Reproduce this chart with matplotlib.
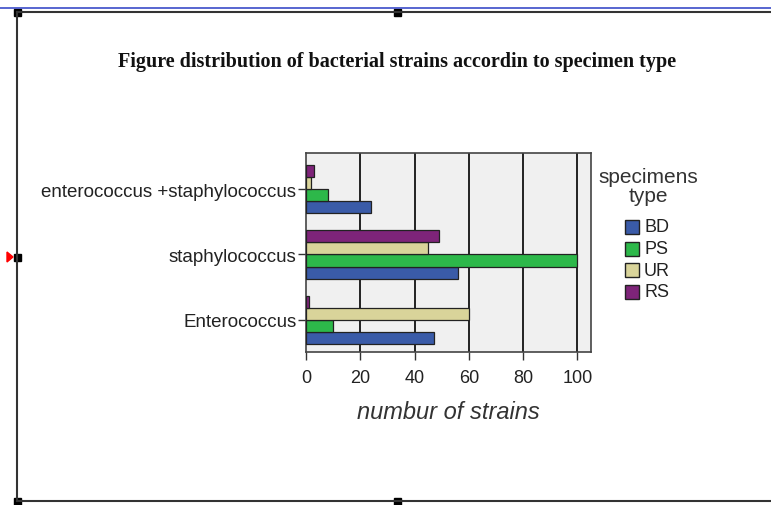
import numpy as np
import matplotlib.pyplot as plt
from matplotlib.patches import Rectangle, Polygon
from matplotlib.lines import Line2D

# --- data ---
categories = ["Enterococcus", "staphylococcus", "enterococcus +staphylococcus"]
series = ["BD", "PS", "UR", "RS"]
bd = [47, 56, 24]
ps = [10, 100, 8]
ur = [60, 45, 2]
rs = [1, 49, 3]
colors = ["#3a5ba8", "#2db84a", "#d9d49a", "#7e2479"]
x_ticks = [0, 20, 40, 60, 80, 100]

values = [bd, ps, ur, rs]

fig = plt.figure(figsize=(7.71, 5.06), dpi=100)
W, H = 771, 506

# axes box in pixel coords: left 306, right 591, top 154, bottom 353
ax = fig.add_axes([306 / W, 1 - 353 / H, (591 - 306) / W, (353 - 154) / H])
ax.set_facecolor("#f0f0f0")

y = np.arange(len(categories))
bh = 0.185
for i, (vals, c) in enumerate(zip(values, colors)):
    off = (i - 1.5) * bh
    ax.barh(y + off, vals, height=bh, color=c, edgecolor="#222222",
            linewidth=0.9, label=series[i], zorder=3)

ax.set_xlim(0, 105)
ax.set_ylim(-0.49, 2.55)
ax.set_xticks(x_ticks)
ax.set_xticklabels([str(t) for t in x_ticks], fontsize=13, family="Liberation Sans")
ax.set_yticks(y)
ax.set_yticklabels(categories, fontsize=13.5, family="Liberation Sans")
ax.tick_params(axis="both", direction="out", length=6, width=1, colors="#333333",
               labelcolor="#222222")
ax.tick_params(axis="x", pad=6)
ax.tick_params(axis="y", pad=1)
for x in x_ticks[1:]:
    ax.axvline(x, color="#222222", linewidth=1.4, zorder=1)
for s in ax.spines.values():
    s.set_color("#444444")
    s.set_linewidth(1.2)

ax.set_xlabel("numbur of strains", fontsize=17, style="italic",
              family="Liberation Sans", color="#333333", labelpad=10)

# legend
fig.text(648 / W, 1 - 187 / H, "specimens\ntype", ha="center", va="center",
         fontsize=15, family="Liberation Sans", color="#333333", linespacing=1.05)
for i, (lab, c) in enumerate(zip(series, colors)):
    yy = 228 + i * 21.5
    fig.patches.append(Rectangle((625 / W, 1 - (yy + 7) / H), 14 / W, 14 / H,
                                 transform=fig.transFigure, facecolor=c,
                                 edgecolor="#222222", linewidth=1))
    fig.text(644 / W, 1 - yy / H, lab, ha="left", va="center", fontsize=13,
             family="Liberation Sans", color="#222222")

# title
fig.text(397 / W, 1 - 62 / H,
         "Figure distribution of bacterial strains accordin to specimen type",
         ha="center", va="center", fontsize=14.5, fontweight="bold",
         family="Liberation Serif", color="#111111")

# editor frame around the chart
fig.add_artist(Line2D([0, 1], [1 - 9 / H] * 2, color="#3b4bc8", linewidth=1.2))
fig.add_artist(Line2D([17 / W, 1], [1 - 13 / H] * 2, color="#333333", linewidth=1.5))
fig.add_artist(Line2D([17 / W, 1], [1 - 502 / H] * 2, color="#333333", linewidth=1.5))
fig.add_artist(Line2D([17 / W] * 2, [1 - 13 / H, 1 - 502 / H], color="#333333", linewidth=1.5))
for (px, py) in [(17, 13), (397, 13), (17, 258), (17, 502), (397, 502)]:
    fig.patches.append(Rectangle(((px - 3.5) / W, 1 - (py + 3.5) / H), 7 / W, 7 / H,
                                 transform=fig.transFigure, facecolor="black",
                                 edgecolor="black"))
fig.patches.append(Polygon([(7 / W, 1 - 253 / H), (7 / W, 1 - 263 / H), (13 / W, 1 - 258 / H)],
                           closed=True, transform=fig.transFigure, facecolor="red",
                           edgecolor="red"))

fig.savefig("out.png", dpi=100)
